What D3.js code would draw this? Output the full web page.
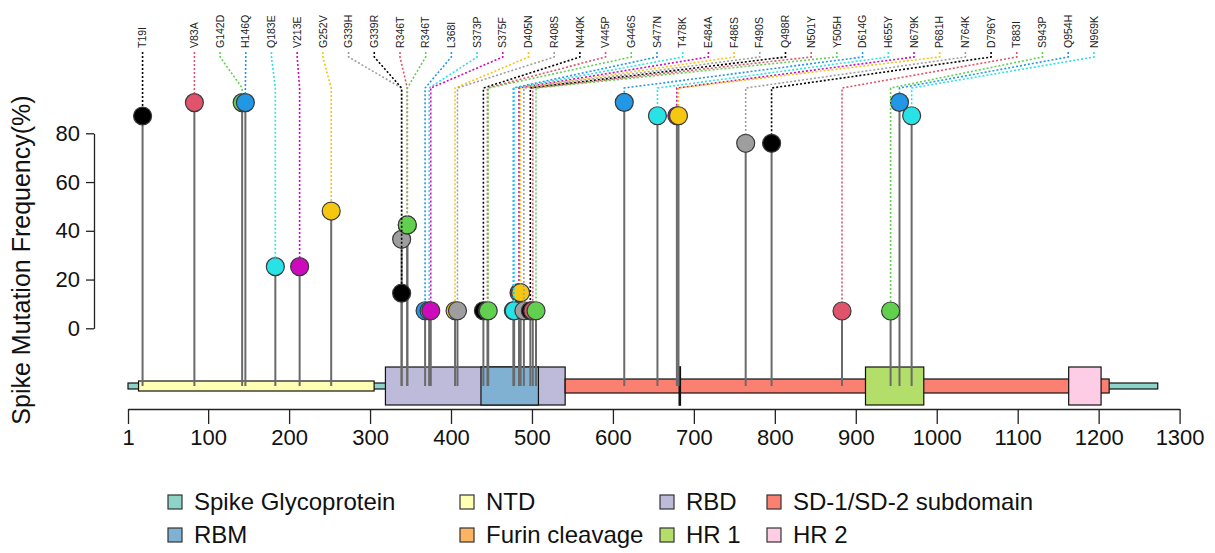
<!DOCTYPE html>
<html>
<head>
<meta charset="utf-8">
<script src="https://cdn.jsdelivr.net/npm/d3@7"></script>
<style>
  html, body { margin: 0; padding: 0; background: #fff; }
  svg { display: block; font-family: "Liberation Sans", Arial, sans-serif; }
</style>
</head>
<body>
<div id="chart"></div>
<script>
// mutations: amino-acid position, label, frequency (%)
const positions = [19, 83, 142, 146, 183, 213, 252, 339, 339, 346, 346, 368, 373, 375, 405, 408,
  440, 445, 446, 477, 478, 484, 486, 490, 498, 501, 505, 614, 655, 679, 681, 764, 796, 883, 943, 954, 969];
const labels = ["T19I", "V83A", "G142D", "H146Q", "Q183E", "V213E", "G252V", "G339H", "G339R", "R346T",
  "R346T", "L368I", "S373P", "S375F", "D405N", "R408S", "N440K", "V445P", "G446S", "S477N", "T478K",
  "E484A", "F486S", "F490S", "Q498R", "N501Y", "Y505H", "D614G", "H655Y", "N679K", "P681H", "N764K",
  "D796Y", "T883I", "S943P", "Q954H", "N969K"];
const freqs = [87.1, 92.6, 92.6, 92.6, 25.3, 25.3, 48.1, 36.5, 14.4, 42.4, 42.4, 7.2, 7.2, 7.2, 7.2, 7.2,
  7.2, 7.2, 7.2, 7.2, 7.2, 14.6, 14.6, 7.2, 7.2, 7.2, 7.2, 92.7, 87.2, 87.2, 87.2, 75.9, 75.9, 7.1, 7.1, 92.7, 87.2];

// protein domains
const domainNames = ["Spike Glycoprotein", "NTD", "RBD", "RBM", "SD-1/SD-2 subdomain", "Furin cleavage", "HR 1", "HR 2"];
const domainStart = [1, 14, 319, 437, 541, 682, 912, 1163];
const domainEnd = [1273, 305, 541, 508, 1213, 685, 984, 1203];

const xTicks = [1, 100, 200, 300, 400, 500, 600, 700, 800, 900, 1000, 1100, 1200, 1300];
const yTicks = [0, 20, 40, 60, 80];

// legend order (two rows of four)
const legendOrder = ["Spike Glycoprotein", "NTD", "RBD", "SD-1/SD-2 subdomain",
  "RBM", "Furin cleavage", "HR 1", "HR 2"];

const palette = ["#000000", "#DF536B", "#61D04F", "#2297E6", "#28E2E5", "#CD0BBC", "#F5C710", "#9E9E9E"];
const domainColor = {
  "Spike Glycoprotein": "#8DD3C7", "NTD": "#FFFFB3", "RBD": "#BEBADA", "RBM": "#80B1D3",
  "SD-1/SD-2 subdomain": "#FB8072", "Furin cleavage": "#FDB462", "HR 1": "#B3DE69", "HR 2": "#FCCDE5"
};
const domainHeight = {
  "Spike Glycoprotein": 6, "NTD": 10, "RBD": 38, "RBM": 38,
  "SD-1/SD-2 subdomain": 14, "Furin cleavage": 38, "HR 1": 38, "HR 2": 38
};

const W = 1215, H = 553;
const svg = d3.select("#chart").append("svg").attr("width", W).attr("height", H);

const x = d3.scaleLinear().domain([1, 1300]).range([128, 1179.6]);
const y = d3.scaleLinear().domain([0, 80]).range([328.3, 133.3]);
const trackY = 386;
const r = 9;

/* ── domain track ───────────────────────────── */
const track = svg.append("g");
domainNames.forEach((name, i) => {
  const h = domainHeight[name];
  const furin = name === "Furin cleavage";
  track.append("rect")
    .attr("x", x(domainStart[i])).attr("y", trackY - h / 2)
    .attr("width", furin ? 1 : x(domainEnd[i]) - x(domainStart[i])).attr("height", h)
    .attr("fill", domainColor[name])
    .attr("stroke", "#111").attr("stroke-width", furin ? 1.6 : 1.2);
});

/* ── x axis ─────────────────────────────────── */
svg.append("g").attr("transform", "translate(0,409)")
  .call(d3.axisBottom(x).tickValues(xTicks).tickFormat(d3.format("d")).tickSize(15).tickSizeOuter(0).tickPadding(5))
  .call(g => g.selectAll("path, line").attr("stroke", "#222").attr("stroke-width", 1.3))
  .call(g => g.selectAll("text").attr("font-size", 22).attr("fill", "#111").attr("font-family", "Liberation Sans, Arial"));

/* ── y axis ─────────────────────────────────── */
svg.append("g").attr("transform", "translate(94,0)")
  .call(d3.axisLeft(y).tickValues(yTicks).tickSize(8).tickSizeOuter(0).tickPadding(6))
  .call(g => g.selectAll("path, line").attr("stroke", "#222").attr("stroke-width", 1.3))
  .call(g => g.selectAll("text").attr("font-size", 22).attr("fill", "#111").attr("font-family", "Liberation Sans, Arial"));

svg.append("text")
  .attr("transform", "translate(30,260) rotate(-90)")
  .attr("text-anchor", "middle")
  .attr("font-size", 25).attr("fill", "#111")
  .text("Spike Mutation Frequency(%)");

/* ── lollipops ──────────────────────────────── */
const muts = positions.map((p, i) => ({
  pos: p, label: labels[i], freq: freqs[i], color: palette[i % palette.length]
}));
const step = 25.7;
muts.forEach((d, i) => {
  d.px = x(d.pos);
  d.cy = y(d.freq);
  d.lx = i === 0 ? d.px : x(muts[1].pos) + (i - 1) * step;
});

svg.append("g").selectAll("line").data(muts).join("line")
  .attr("x1", d => d.px).attr("x2", d => d.px)
  .attr("y1", d => d.cy).attr("y2", trackY)
  .attr("stroke", "#6a6a6a").attr("stroke-width", 2);

svg.append("g").selectAll("circle").data(muts).join("circle")
  .attr("cx", d => d.px).attr("cy", d => d.cy).attr("r", r)
  .attr("fill", d => d.color)
  .attr("stroke", "#3a3a3a").attr("stroke-width", 1.2);

svg.append("g").selectAll("path").data(muts).join("path")
  .attr("d", d => `M${d.lx},52 L${d.lx},57 L${d.px},88 L${d.px},${d.cy - r}`)
  .attr("fill", "none")
  .attr("stroke", d => d.color).attr("stroke-width", 1.6)
  .attr("stroke-dasharray", "2,2");

svg.append("g").selectAll("text").data(muts).join("text")
  .attr("transform", d => `translate(${d.lx},48) rotate(-90)`)
  .attr("dy", "0.35em")
  .attr("font-size", 10.5).attr("fill", "#222")
  .text(d => d.label);

/* ── legend ─────────────────────────────────── */
const colX = [168, 460, 660, 767];
const rowY = [502, 535];
const legend = svg.append("g");
legendOrder.forEach((name, i) => {
  const cx = colX[i % 4], cy = rowY[Math.floor(i / 4)];
  legend.append("rect")
    .attr("x", cx).attr("y", cy - 7).attr("width", 14).attr("height", 14)
    .attr("fill", domainColor[name]).attr("stroke", "#333").attr("stroke-width", 1.2);
  legend.append("text")
    .attr("x", cx + 26).attr("y", cy).attr("dy", "0.35em")
    .attr("font-size", 24).attr("fill", "#111")
    .text(name);
});
</script>
</body>
</html>
